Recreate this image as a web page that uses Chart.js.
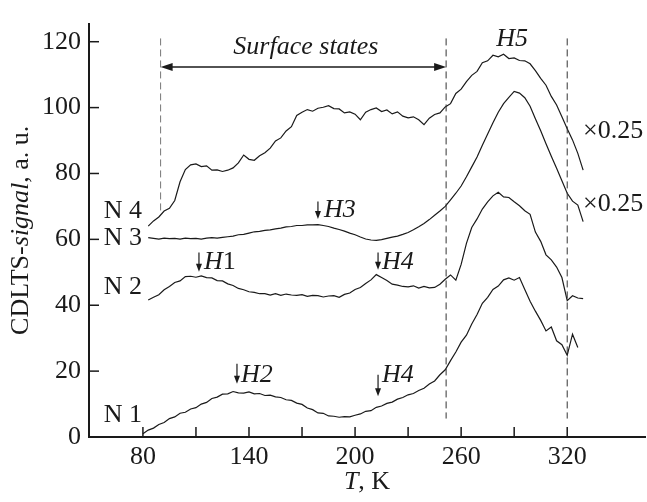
<!DOCTYPE html>
<html>
<head>
<meta charset="utf-8">
<script src="https://cdn.jsdelivr.net/npm/chart.js@4"></script>
<style>
  html, body { margin: 0; padding: 0; background: #fff; }
  #wrap { width: 647px; height: 502px; position: relative; }
</style>
</head>
<body>
<div id="wrap"><canvas id="c"></canvas></div>
<script>
// temperature grid (K)
const tempK = [80,83,86,89,92,95,98,101,104,107,110,113,116,119,122,125,128,131,134,137,
  140,143,146,149,152,155,158,161,164,167,170,173,176,179,182,185,188,191,194,197,
  200,203,206,209,212,215,218,221,224,227,230,233,236,239,242,245,248,251,254,257,
  260,263,266,269,272,275,278,281,284,287,290,293,296,299,302,305,308,311,314,317,
  320,323,326,329];

// CDLTS signal, a.u.
const sigN1 = [1.0,2.1,2.7,3.8,4.4,5.6,6.1,7.2,7.5,8.5,8.9,10.0,10.5,11.7,12.1,13.0,13.1,13.8,13.4,13.3,
  13.7,13.1,13.2,12.6,12.7,12.2,12.0,11.3,11.1,10.3,9.9,8.8,8.3,7.3,7.2,6.4,6.3,6.0,6.2,6.1,
  6.6,7.0,7.8,8.0,9.0,9.4,10.2,10.6,11.5,12.0,12.8,13.2,14.1,14.8,16.1,17.0,18.9,20.4,23.2,25.8,
  28.8,30.9,34.3,37.2,40.6,42.4,44.8,45.8,47.7,48.3,47.6,48.4,44.8,41.2,38.2,35.4,32.2,33.4,29.2,28.0,
  24.8,31.2,27.2,null];
const sigN2 = [null,41.6,42.4,43.2,44.7,45.7,46.9,47.4,48.7,48.8,48.5,48.9,48.4,48.3,47.5,47.4,46.5,46.0,45.1,44.7,
  44.1,43.9,43.5,43.5,43.1,43.5,43.0,43.4,43.1,43.0,43.2,42.7,43.0,42.9,42.5,42.8,42.9,42.4,43.3,43.7,
  44.8,45.4,46.6,47.7,49.3,48.4,47.5,46.4,46.1,45.7,45.6,45.9,45.2,45.7,45.3,45.4,46.4,47.9,49.2,47.6,
  52.4,58.8,63.6,66.2,69.2,71.4,73.2,74.3,72.9,72.7,71.4,70.2,68.7,67.6,62.2,59.4,55.3,53.8,51.6,48.4,
  41.4,42.9,42.2,42.0];
const sigN3 = [null,60.5,60.3,60.1,60.4,60.2,60.3,60.1,60.4,60.2,60.3,60.1,60.4,60.5,60.4,60.6,60.8,61.0,61.4,61.5,
  61.9,62.3,62.4,62.7,62.9,63.2,63.4,63.8,63.9,64.2,64.2,64.4,64.4,64.5,64.2,63.9,63.4,63.0,62.5,61.9,
  61.4,60.7,60.1,59.8,59.7,59.9,60.3,60.7,61.0,61.5,62.1,62.9,63.8,64.8,66.0,67.3,68.6,70.0,72.0,74.0,
  76.2,79.0,82.0,85.0,88.6,92.0,95.4,98.6,101.2,103.1,104.9,104.4,103.0,100.4,96.6,93.0,89.0,85.2,81.6,77.8,
  74.0,71.6,70.4,65.4];
const sigN4 = [null,64.0,65.6,66.8,68.6,69.4,71.8,77.5,81.2,82.6,82.9,82.1,82.3,81.0,81.1,80.6,81.0,81.7,83.2,85.6,
  84.3,84.0,85.4,86.3,87.7,89.9,90.8,92.9,94.2,97.6,98.6,99.4,98.9,99.8,100.1,100.6,99.7,99.6,98.4,98.7,
  98.0,96.3,98.6,99.4,99.9,98.8,99.3,98.1,98.7,97.4,96.9,97.2,96.3,94.8,96.8,97.9,98.4,100.2,101.2,104.3,
  105.6,107.9,109.8,111.0,113.6,114.2,115.9,115.4,116.2,114.9,115.1,114.3,114.2,113.3,111.2,108.9,106.8,103.4,100.8,97.2,
  93.6,90.2,86.1,81.0];

const seriesNames = ['N 1','N 2','N 3','N 4'];
const xTickVals = [80,110,140,170,200,230,260,290,320];
const xLabelVals = [80,140,200,260,320];
const yTickVals = [0,20,40,60,80,100,120];

const FONT = '"Liberation Serif", "Times New Roman", Times, serif';
const FS = 26;
const INK = '#1a1a1a';

function pts(vals){
  const out = [];
  vals.forEach((v,i)=>{ if(v!==null) out.push({x:tempK[i], y:v}); });
  return out;
}

// text with italic parts: parts = [[text, italic], ...]
function mixedWidth(ctx, parts, size){
  let w = 0;
  parts.forEach(p=>{ ctx.font = (p[1]?'italic ':'')+size+'px '+FONT; w += ctx.measureText(p[0]).width; });
  return w;
}
function mixedText(ctx, parts, x, y, size, align){
  const w = mixedWidth(ctx, parts, size);
  let cx = align==='center' ? x - w/2 : (align==='right' ? x - w : x);
  ctx.textAlign = 'left'; ctx.textBaseline = 'middle';
  parts.forEach(p=>{
    ctx.font = (p[1]?'italic ':'')+size+'px '+FONT;
    ctx.fillText(p[0], cx, y);
    cx += ctx.measureText(p[0]).width;
  });
}
function downArrow(ctx, px, top, bot){
  ctx.beginPath(); ctx.moveTo(px, top); ctx.lineTo(px, bot-6); ctx.stroke();
  ctx.beginPath(); ctx.moveTo(px-3, bot-8); ctx.lineTo(px, bot); ctx.lineTo(px+3, bot-8); ctx.closePath(); ctx.fill();
}

const annot = {
  id:'annot',
  afterDraw(chart){
    const {ctx, chartArea:a, scales:{x, y}} = chart;
    const X = v=>x.getPixelForValue(v), Y = v=>y.getPixelForValue(v);
    ctx.save();
    ctx.strokeStyle = INK; ctx.fillStyle = INK;

    // inward tick marks
    ctx.lineWidth = 1.5;
    xTickVals.forEach(v=>{ ctx.beginPath(); ctx.moveTo(X(v), a.bottom); ctx.lineTo(X(v), a.bottom-10); ctx.stroke(); });
    yTickVals.forEach(v=>{ ctx.beginPath(); ctx.moveTo(a.left, Y(v)); ctx.lineTo(a.left+10, Y(v)); ctx.stroke(); });

    // dashed guides
    ctx.lineWidth = 1; ctx.setLineDash([7,4]);
    ctx.strokeStyle = '#777';
    ctx.beginPath(); ctx.moveTo(X(90), Y(121)); ctx.lineTo(X(90), Y(68.5)); ctx.stroke();
    ctx.strokeStyle = '#333';
    [251.5, 320].forEach(t=>{ ctx.beginPath(); ctx.moveTo(X(t), Y(121)); ctx.lineTo(X(t), Y(5.6)); ctx.stroke(); });
    ctx.setLineDash([]);
    ctx.strokeStyle = INK;

    // "Surface states" double arrow
    const ay = Y(112.3), l = X(90), r = X(251.5);
    ctx.lineWidth = 1.5;
    ctx.beginPath(); ctx.moveTo(l+8, ay); ctx.lineTo(r-8, ay); ctx.stroke();
    ctx.beginPath(); ctx.moveTo(l, ay); ctx.lineTo(l+12, ay-4); ctx.lineTo(l+12, ay+4); ctx.closePath(); ctx.fill();
    ctx.beginPath(); ctx.moveTo(r, ay); ctx.lineTo(r-12, ay-4); ctx.lineTo(r-12, ay+4); ctx.closePath(); ctx.fill();
    mixedText(ctx, [['Surface states', true]], X(172.2), Y(118.2), FS, 'center');

    // series labels
    mixedText(ctx, [[seriesNames[3], false]], X(79.5), Y(68.5), FS, 'right');
    mixedText(ctx, [[seriesNames[2], false]], X(79.5), Y(60.3), FS, 'right');
    mixedText(ctx, [[seriesNames[1], false]], X(79.5), Y(45.5), FS, 'right');
    mixedText(ctx, [[seriesNames[0], false]], X(79.5), Y(6.5), FS, 'right');

    // peak markers
    ctx.lineWidth = 1.2;
    downArrow(ctx, X(111.7), Y(56), Y(50.2));
    mixedText(ctx, [['H', true], ['1', false]], X(111.7)+5, Y(53.2), FS, 'left');
    downArrow(ctx, X(133.2), Y(22.2), Y(16.2));
    mixedText(ctx, [['H2', true]], X(133.2)+4, Y(18.9), FS, 'left');
    downArrow(ctx, X(179), Y(71.5), Y(66.2));
    mixedText(ctx, [['H3', true]], X(179)+6, Y(69), FS, 'left');
    downArrow(ctx, X(213), Y(56), Y(50.8));
    mixedText(ctx, [['H4', true]], X(213)+4, Y(53.2), FS, 'left');
    downArrow(ctx, X(213), Y(18.9), Y(12.4));
    mixedText(ctx, [['H4', true]], X(213)+4, Y(18.9), FS, 'left');
    mixedText(ctx, [['H5', true]], X(288.8), Y(120.8), FS, 'center');

    // scale factors
    mixedText(ctx, [['\u00d70.25', false]], X(329), Y(92.8), FS, 'left');
    mixedText(ctx, [['\u00d70.25', false]], X(329), Y(70.6), FS, 'left');

    // axis titles
    mixedText(ctx, [['T', true], [', K', false]], (a.left+a.right)/2, 482, FS, 'center');
    ctx.translate(21, (a.top+a.bottom)/2);
    ctx.rotate(-Math.PI/2);
    mixedText(ctx, [['CDLTS-', false], ['signal', true], [', a. u.', false]], 0, 0, FS, 'center');
    ctx.restore();
  }
};

const mkSet = (vals)=>({
  data: pts(vals), borderColor: INK, borderWidth: 1.2, pointRadius: 0, tension: 0, fill: false
});

new Chart(document.getElementById('c'), {
  type: 'line',
  data: { datasets: [mkSet(sigN1), mkSet(sigN2), mkSet(sigN3), mkSet(sigN4)] },
  options: {
    responsive: true, maintainAspectRatio: false, animation: false,
    layout: { padding: { top: 12, right: 2, left: 0, bottom: 0 } },
    plugins: { legend: { display: false }, tooltip: { enabled: false } },
    scales: {
      x: {
        type: 'linear', min: 49.5, max: 364,
        afterFit: s => { s.height = 65; },
        afterBuildTicks: s => { s.ticks = xTickVals.map(v=>({value:v})); },
        grid: { drawOnChartArea: false, drawTicks: false },
        border: { color: INK, width: 2 },
        ticks: { color: INK, padding: 5, maxRotation: 0, autoSkip: false,
          font: { family: FONT, size: FS },
          callback: v => xLabelVals.includes(v) ? String(v) : '' }
      },
      y: {
        min: 0, max: 125.5,
        afterFit: s => { s.width = 89; },
        afterBuildTicks: s => { s.ticks = yTickVals.map(v=>({value:v})); },
        grid: { drawOnChartArea: false, drawTicks: false },
        border: { color: INK, width: 2 },
        ticks: { color: INK, padding: 8, font: { family: FONT, size: FS } }
      }
    }
  },
  plugins: [annot]
});
</script>
</body>
</html>
